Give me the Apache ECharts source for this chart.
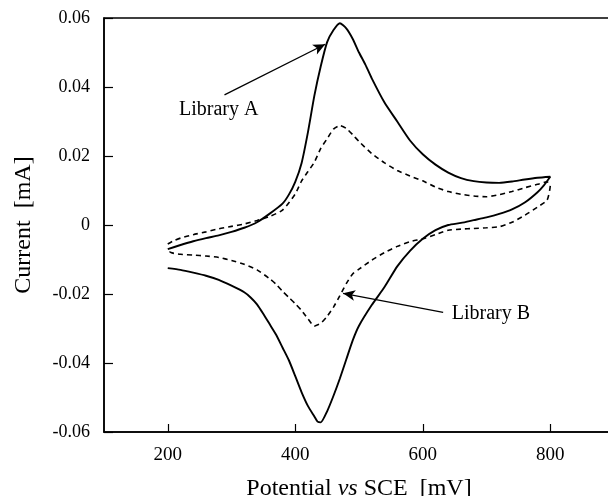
<!DOCTYPE html>
<html>
<head>
<meta charset="utf-8">
<script src="https://cdn.jsdelivr.net/npm/echarts@6/dist/echarts.min.js"></script>
<style>html,body{margin:0;padding:0;background:#fff;}#c{width:608px;height:496px;}</style>
</head>
<body>
<div id="c"></div>
<script>
// Library A (solid): forward (anodic) scan and reverse scan
const potFwdA = [200,220,240,260,280,300,320,340,360,380,390,400,410,420,430,440,450,460,470,480,490,500,510,520,540,560,580,600,620,640,660,680,700,720,740,760,780,800];
const curFwdA = [-0.0070,-0.0058,-0.0047,-0.0038,-0.0030,-0.0020,-0.0008,0.0008,0.0033,0.0062,0.0088,0.0125,0.0180,0.0270,0.0375,0.0460,0.0530,0.0565,0.0585,0.0570,0.0540,0.0500,0.0465,0.0425,0.0355,0.0300,0.0245,0.0205,0.0175,0.0152,0.0136,0.0127,0.0123,0.0122,0.0126,0.0132,0.0137,0.0140];
const potRevA = [800,790,780,760,740,720,700,680,660,640,620,600,580,560,540,520,500,490,480,470,460,450,440,435,430,420,410,400,390,380,370,360,350,340,330,320,300,280,260,240,220,200];
const curRevA = [0.0138,0.0115,0.0095,0.0065,0.0045,0.0032,0.0022,0.0014,0.0006,0.0000,-0.0015,-0.0040,-0.0075,-0.0120,-0.0180,-0.0232,-0.0292,-0.0335,-0.0390,-0.0445,-0.0495,-0.0540,-0.0572,-0.0570,-0.0555,-0.0525,-0.0485,-0.0438,-0.0392,-0.0355,-0.0318,-0.0288,-0.0258,-0.0230,-0.0210,-0.0195,-0.0176,-0.0159,-0.0147,-0.0138,-0.0130,-0.0125];

// Library B (dashed)
const potFwdB = [200,210,220,240,260,280,300,320,340,360,380,400,410,420,430,440,450,460,470,480,490,500,520,540,560,580,600,620,640,660,680,700,720,740,760,780,795];
const curFwdB = [-0.0055,-0.0045,-0.0038,-0.0028,-0.0020,-0.0011,-0.0004,0.0003,0.0013,0.0025,0.0043,0.0090,0.0128,0.0155,0.0182,0.0222,0.0250,0.0278,0.0288,0.0280,0.0262,0.0242,0.0207,0.0180,0.0158,0.0142,0.0128,0.0110,0.0097,0.0089,0.0084,0.0082,0.0088,0.0097,0.0108,0.0118,0.0125];
const potRevB = [800,795,780,760,740,720,700,680,660,640,620,600,580,560,540,520,500,490,480,470,460,450,440,430,420,410,400,390,380,370,360,340,320,300,280,260,240,220,205,198];
const curRevB = [0.0115,0.0072,0.0052,0.0028,0.0008,-0.0005,-0.0008,-0.0010,-0.0012,-0.0015,-0.0028,-0.0040,-0.0048,-0.0062,-0.0080,-0.0102,-0.0128,-0.0142,-0.0170,-0.0205,-0.0238,-0.0265,-0.0285,-0.0293,-0.0272,-0.0248,-0.0228,-0.0210,-0.0192,-0.0172,-0.0156,-0.0130,-0.0114,-0.0103,-0.0094,-0.0090,-0.0087,-0.0085,-0.0080,-0.0068];

const xTicks = [200,400,600,800];
const labelA = 'Library A', labelB = 'Library B';
// annotation anchors in data units
const arrowA = [[289,0.0377],[447,0.0524]];
const textA = [280,0.0333];
const arrowB = [[632,-0.0253],[475,-0.0198]];
const textB = [707,-0.0256];

const zip = (p, c) => p.map((v, i) => [v, c[i]]);
const dataA = zip(potFwdA, curFwdA).concat(zip(potRevA, curRevA));
const dataB = zip(potFwdB, curFwdB).concat(zip(potRevB, curRevB));

const serif = '"Liberation Serif","Times New Roman",serif';
const chart = echarts.init(document.getElementById('c'));
const annLabel = (txt) => ({show:true, formatter:txt, position:'inside', color:'#000', fontFamily:serif, fontSize:20});
chart.setOption({
  animation:false,
  backgroundColor:'#fff',
  grid:{left:104, top:18, width:510, height:414, outerBoundsMode:'none', containLabel:false,
    show:true, borderColor:'#000', borderWidth:1.5, backgroundColor:'transparent'},
  xAxis:{
    type:'value', min:100, max:900,
    splitLine:{show:false},
    axisLine:{show:true, onZero:false, lineStyle:{color:'#000', width:1.5}},
    axisTick:{show:true, inside:true, length:8, customValues:xTicks, lineStyle:{color:'#000', width:1.2}},
    axisLabel:{customValues:xTicks, color:'#000', fontFamily:serif, fontSize:19, margin:14},
    name:'{n|Potential }{i|vs}{n| SCE  [mV]}', nameLocation:'middle', nameGap:45,
    nameTextStyle:{rich:{n:{fontFamily:serif, fontSize:24, color:'#000'}, i:{fontFamily:serif, fontSize:24, fontStyle:'italic', color:'#000'}}}
  },
  yAxis:{
    type:'value', min:-0.06, max:0.06, interval:0.02,
    splitLine:{show:false},
    axisLine:{show:true, onZero:false, lineStyle:{color:'#000', width:1.5}},
    axisTick:{show:true, inside:true, length:9, lineStyle:{color:'#000', width:1.2}},
    axisLabel:{color:'#000', fontFamily:serif, fontSize:18, margin:14,
      formatter:v => Math.abs(v) < 1e-9 ? '0' : v.toFixed(2)},
    name:'Current  [mA]', nameLocation:'middle', nameGap:68,
    nameTextStyle:{fontFamily:serif, fontSize:24, color:'#000'}
  },
  series:[
    {type:'line', name:'A', data:dataA, showSymbol:false, smooth:0.2,
      lineStyle:{color:'#000', width:1.9},
      markLine:{silent:true, symbol:['none','arrow'], symbolSize:[8,12], label:{show:false},
        lineStyle:{color:'#000', width:1.3, type:'solid'},
        data:[[{coord:arrowA[0]},{coord:arrowA[1]}]]},
      markPoint:{symbol:'circle', symbolSize:1, itemStyle:{color:'transparent'},
        data:[{coord:textA, label:annLabel(labelA)}]}
    },
    {type:'line', name:'B', data:dataB, showSymbol:false, smooth:0.2,
      lineStyle:{color:'#000', width:1.6, type:[5,4]},
      markLine:{silent:true, symbol:['none','arrow'], symbolSize:[8,12], label:{show:false},
        lineStyle:{color:'#000', width:1.3, type:'solid'},
        data:[[{coord:arrowB[0]},{coord:arrowB[1]}]]},
      markPoint:{symbol:'circle', symbolSize:1, itemStyle:{color:'transparent'},
        data:[{coord:textB, label:annLabel(labelB)}]}
    }
  ]
});
</script>
</body>
</html>
